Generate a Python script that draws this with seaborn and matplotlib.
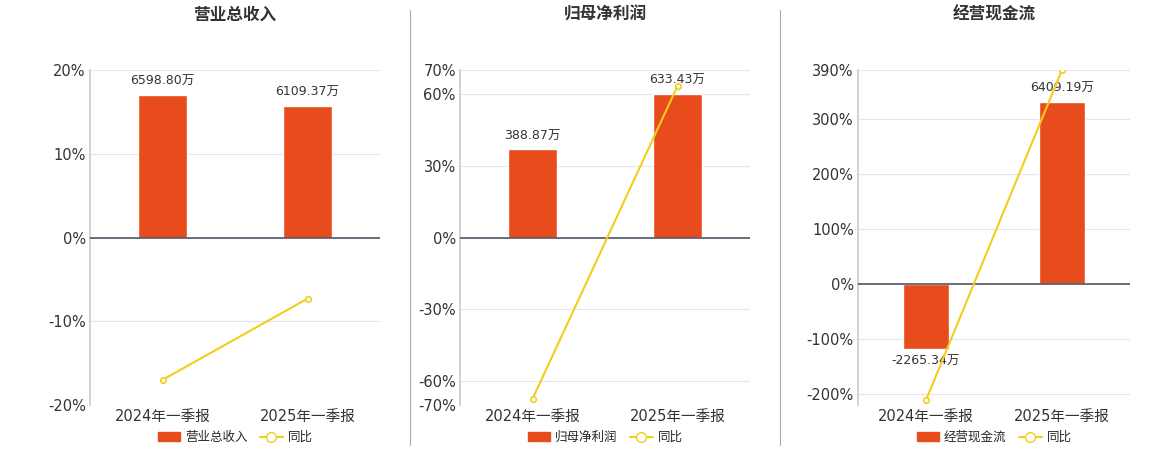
import matplotlib.pyplot as plt
import seaborn as sns
import pandas as pd

sns.set_theme(style="white")
plt.rcParams['font.family'] = ['DejaVu Sans', 'Noto Sans CJK SC']

periods = ['2024年一季报', '2025年一季报']
titles = ['营业总收入', '归母净利润', '经营现金流']
amounts = [[6598.80, 6109.37], [388.87, 633.43], [-2265.34, 6409.19]]
labels = [['6598.80万', '6109.37万'], ['388.87万', '633.43万'], ['-2265.34万', '6409.19万']]
yoy = [[-17.0, -7.3], [-67.5, 63.3], [-211.0, 390.0]]
ylims = [(-20, 20), (-70, 70), (-220, 390)]
yticks = [[-20, -10, 0, 10, 20], [-70, -60, -30, 0, 30, 60, 70], [-200, -100, 0, 100, 200, 300, 390]]
scale = [388.0, 10.56, 19.3]  # 万 per % on the hidden bar axis

bar_color = '#E84B1C'
line_color = '#F2CE1B'

fig = plt.figure(figsize=(11.6, 4.5), dpi=100)
lefts = [90, 460, 858]
rights = [380, 750, 1130]
W, H = 1160, 450

for i in range(3):
    ax = fig.add_axes([lefts[i] / W, 1 - 405 / H, (rights[i] - lefts[i]) / W, 335 / H])
    ax2 = ax.twinx()
    lo, hi = ylims[i]
    ax.set_ylim(lo, hi)
    ax2.set_ylim(lo * scale[i], hi * scale[i])
    ax.set_xlim(-0.5, 1.5)
    ax2.set_xlim(-0.5, 1.5)
    # grid under the bars
    for t in yticks[i]:
        ax2.axhline(t * scale[i], color='#E3E6EE', lw=0.8, zorder=0)
    df = pd.DataFrame({'period': periods, 'amount': amounts[i]})
    sns.barplot(data=df, x='period', y='amount', ax=ax2, color=bar_color, width=0.34, saturation=1, zorder=2)
    for j, v in enumerate(amounts[i]):
        off = 0.02 * (hi - lo) * scale[i]
        ax2.text(j, v + off if v > 0 else v - off, labels[i][j], ha='center',
                 va='bottom' if v > 0 else 'top', fontsize=9, color='#333333')
    ax2.set_yticks([])
    ax2.set_ylabel('')
    ax2.set_xlabel('')
    ax.plot([0, 1], yoy[i], color=line_color, marker='o', markersize=4, markerfacecolor='white',
            markeredgewidth=1.2, lw=1.5, zorder=5)
    ax.set_zorder(ax2.get_zorder() + 1)
    ax.patch.set_visible(False)
    ax.set_yticks(yticks[i])
    ax.set_yticklabels([f'{t}%' for t in yticks[i]], fontsize=10.5, color='#333333')
    ax.set_xticks([0, 1])
    ax.set_xticklabels(periods, fontsize=10.5, color='#333333')
    ax.tick_params(axis='both', length=0, pad=3)
    ax.axhline(0, color='#555566', lw=1.2, zorder=3)
    for a in (ax, ax2):
        for s in a.spines.values():
            s.set_visible(False)
    ax.spines['left'].set_visible(True)
    ax.spines['left'].set_color('#CCCCCC')
    ax.text(0.5, 1.15, titles[i], transform=ax.transAxes, ha='center', fontsize=12, fontweight='bold',
            color='#333333', family=['Noto Sans CJK SC', 'DejaVu Sans'])
    h1 = plt.Rectangle((0, 0), 1, 1, color=bar_color)
    h2, = ax.plot([], [], color=line_color, marker='o', markerfacecolor='white', markersize=7, lw=1.5)
    ax.legend([h1, h2], [titles[i], '同比'], loc='upper center', bbox_to_anchor=(0.5, -0.055), ncol=2,
              frameon=False, fontsize=9, handlelength=1.8, columnspacing=1.0, handletextpad=0.4,
              borderpad=0.1)

for x in (410, 780):
    fig.add_artist(plt.Line2D([x / W, x / W], [1 - 445 / H, 1 - 10 / H], color='#AAAAAA', lw=0.8))

fig.savefig('out.png', dpi=100)
